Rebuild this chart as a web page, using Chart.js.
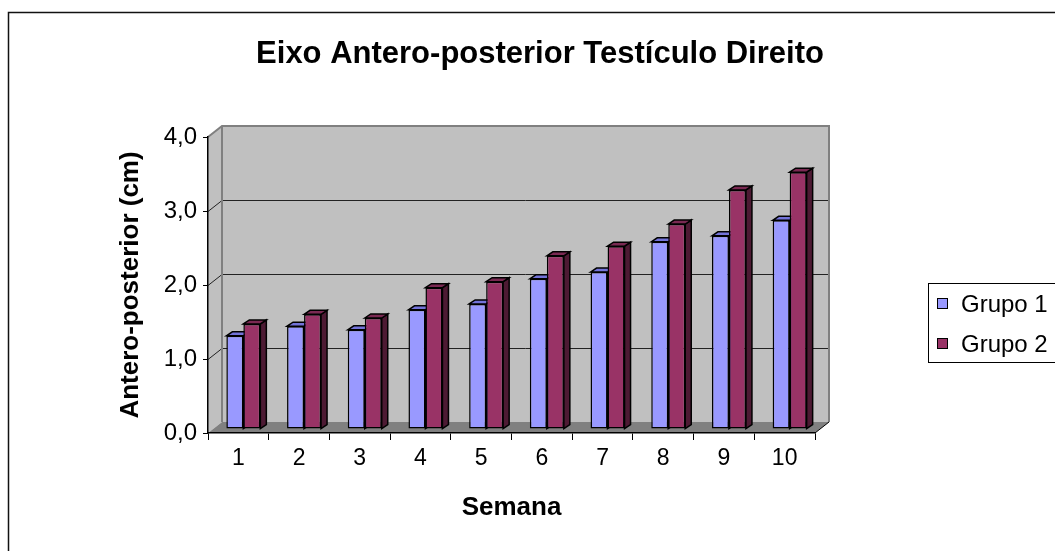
<!DOCTYPE html>
<html>
<head>
<meta charset="utf-8">
<script src="https://cdn.jsdelivr.net/npm/chart.js@4"></script>
<style>
  body { margin: 0; background: #fff; }
  canvas { display: block; }
</style>
</head>
<body>
<canvas id="grafico" width="1055" height="551"></canvas>
<script>
// ======= dados =======
const semanas = ['1', '2', '3', '4', '5', '6', '7', '8', '9', '10'];
const grupo1 = [1.26, 1.39, 1.34, 1.61, 1.69, 2.03, 2.12, 2.53, 2.61, 2.82];
const grupo2 = [1.42, 1.55, 1.50, 1.91, 1.99, 2.34, 2.47, 2.77, 3.23, 3.47];
const gradeY = [0, 1, 2, 3, 4];

const FONTE = "'Liberation Sans', Arial, sans-serif";
const PAREDE = { x: 14, y: -11 };   // profundidade da parede do fundo
const BARRA = { x: 5, y: -4 };      // deslocamento das barras (meio da profundidade)
const LADO = { x: 6, y: -4 };       // espessura da barra

const cores = [
  { frente: '#9999FF', lado: '#4D4D99', topo: '#7373D9' },
  { frente: '#993366', lado: '#4D1A33', topo: '#7A2952' }
];

function poly(ctx, pts, fill, stroke, lw) {
  ctx.beginPath();
  ctx.moveTo(pts[0][0], pts[0][1]);
  for (let i = 1; i < pts.length; i++) ctx.lineTo(pts[i][0], pts[i][1]);
  ctx.closePath();
  if (fill) { ctx.fillStyle = fill; ctx.fill(); }
  if (stroke) { ctx.strokeStyle = stroke; ctx.lineWidth = lw || 1; ctx.stroke(); }
}

// ======= paredes e chao 3D =======
const paredes = {
  id: 'paredes',
  beforeDraw(chart) {
    const { ctx, chartArea: a, scales } = chart;
    const dx = PAREDE.x, dy = PAREDE.y;
    ctx.save();
    // moldura externa
    ctx.strokeStyle = '#111';
    ctx.lineWidth = 1.5;
    ctx.strokeRect(8.5, 12.5, 1060, 560);
    // parede esquerda
    poly(ctx, [[a.left, a.top], [a.left + dx, a.top + dy], [a.left + dx, a.bottom + dy], [a.left, a.bottom]], '#C0C0C0');
    // parede do fundo
    ctx.fillStyle = '#C0C0C0';
    ctx.fillRect(a.left + dx, a.top + dy, a.right - a.left, a.bottom - a.top);
    // linhas de grade
    ctx.strokeStyle = '#222';
    ctx.lineWidth = 1;
    gradeY.forEach(v => {
      if (v === 0 || v === 4) return;
      const y = Math.round(scales.y.getPixelForValue(v)) + 0.5;
      ctx.beginPath();
      ctx.moveTo(a.left, y);
      ctx.lineTo(a.left + dx, y + dy);
      ctx.lineTo(a.right + dx, y + dy);
      ctx.stroke();
    });
    // contorno da parede
    ctx.strokeStyle = '#808080';
    ctx.lineWidth = 2;
    ctx.beginPath();
    ctx.moveTo(a.left, a.top);
    ctx.lineTo(a.left + dx, a.top + dy);
    ctx.lineTo(a.right + dx, a.top + dy);
    ctx.lineTo(a.right + dx, a.bottom + dy);
    ctx.moveTo(a.left + dx, a.top + dy);
    ctx.lineTo(a.left + dx, a.bottom + dy);
    ctx.stroke();
    // chao
    poly(ctx, [[a.left, a.bottom], [a.left + dx, a.bottom + dy], [a.right + dx, a.bottom + dy], [a.right, a.bottom]], '#808080');
    ctx.strokeStyle = '#000';
    ctx.lineWidth = 1;
    ctx.beginPath();
    ctx.moveTo(a.right, a.bottom);
    ctx.lineTo(a.right + dx, a.bottom + dy);
    ctx.stroke();
    // titulo
    ctx.fillStyle = '#000';
    ctx.font = 'bold 31px ' + FONTE;
    ctx.textAlign = 'center';
    ctx.textBaseline = 'middle';
    ctx.fillText('Eixo Antero-posterior Testículo Direito', 540, 54);
    ctx.restore();
  },
  beforeDatasetsDraw(chart) {
    const { ctx } = chart;
    ctx.save();
    chart.data.datasets.forEach((ds, i) => {
      const c = cores[i];
      chart.getDatasetMeta(i).data.forEach(bar => {
        const l = bar.x - bar.width / 2 + BARRA.x;
        const r = bar.x + bar.width / 2 + BARRA.x;
        const t = bar.y + BARRA.y;
        const b = bar.base + BARRA.y;
        poly(ctx, [[r, t], [r + LADO.x, t + LADO.y], [r + LADO.x, b + LADO.y], [r, b]], c.lado, '#000', 1.5);
        poly(ctx, [[l, t], [l + LADO.x, t + LADO.y], [r + LADO.x, t + LADO.y], [r, t]], c.topo, '#000', 1.5);
      });
    });
    ctx.restore();
    ctx.save();
    ctx.translate(BARRA.x, BARRA.y);
  },
  afterDatasetsDraw(chart) {
    const { ctx } = chart;
    ctx.restore();
    // legenda
    ctx.save();
    ctx.strokeStyle = '#000';
    ctx.lineWidth = 1;
    ctx.strokeRect(928.5, 283.5, 140, 79);
    ctx.font = '24px ' + FONTE;
    ctx.textAlign = 'left';
    ctx.textBaseline = 'middle';
    chart.data.datasets.forEach((ds, i) => {
      const y = 304 + i * 40;
      ctx.fillStyle = cores[i].frente;
      ctx.fillRect(937.5, y - 5.5, 10, 10);
      ctx.strokeRect(937.5, y - 5.5, 10, 10);
      ctx.fillStyle = '#000';
      ctx.fillText(ds.label, 961, y + 1);
    });
    ctx.restore();
  }
};

// ======= grafico =======
const ctx = document.getElementById('grafico').getContext('2d');
new Chart(ctx, {
  type: 'bar',
  data: {
    labels: semanas,
    datasets: [
      {
        label: 'Grupo 1',
        data: grupo1,
        backgroundColor: cores[0].frente,
        borderColor: '#000',
        borderWidth: 1.5,
        borderSkipped: false
      },
      {
        label: 'Grupo 2',
        data: grupo2,
        backgroundColor: cores[1].frente,
        borderColor: '#000',
        borderWidth: 1.5,
        borderSkipped: false
      }
    ]
  },
  options: {
    responsive: false,
    animation: false,
    devicePixelRatio: 1,
    layout: { padding: { left: 0, top: 137, right: 240, bottom: 20 } },
    datasets: { bar: { categoryPercentage: 0.56, barPercentage: 1 } },
    plugins: {
      legend: { display: false },
      title: { display: false },
      tooltip: { enabled: false }
    },
    scales: {
      x: {
        afterFit: s => { s.height = 98; },
        grid: { drawOnChartArea: false, drawTicks: true, tickLength: 7, color: '#000', offset: true },
        border: { color: '#000', width: 1.5 },
        ticks: { color: '#000', font: { family: FONTE, size: 23 }, padding: 5, maxRotation: 0 },
        title: {
          display: true,
          text: 'Semana',
          color: '#000',
          font: { family: FONTE, size: 26, weight: 'bold' },
          padding: { top: 0, bottom: 8 }
        }
      },
      y: {
        min: 0,
        max: 4,
        afterFit: s => { s.width = 208; },
        grid: { drawOnChartArea: false, drawTicks: true, tickLength: 5, color: '#000' },
        border: { color: '#000', width: 1.5 },
        ticks: {
          stepSize: 1,
          color: '#000',
          font: { family: FONTE, size: 24 },
          padding: 6,
          callback: v => v.toFixed(1).replace('.', ',')
        },
        title: {
          display: true,
          text: 'Antero-posterior (cm)',
          color: '#000',
          font: { family: FONTE, size: 26, weight: 'bold' },
          padding: { top: 115, bottom: 0 }
        }
      }
    }
  },
  plugins: [paredes]
});
</script>
</body>
</html>
